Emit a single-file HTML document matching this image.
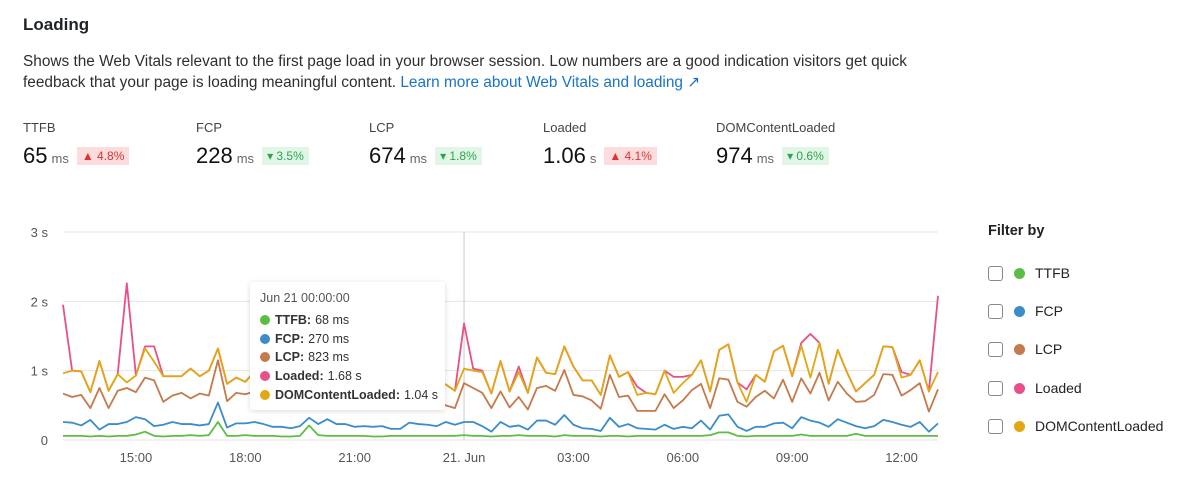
<!DOCTYPE html>
<html><head><meta charset="utf-8"><style>
body{margin:0;width:1200px;height:492px;background:#fff;font-family:"Liberation Sans",sans-serif;color:#1f2328;position:relative;overflow:hidden}
.abs{position:absolute}
h2{position:absolute;left:23px;top:15px;margin:0;font-size:17px;font-weight:bold}
.desc{left:23px;top:52px;font-size:15.4px;line-height:20.5px;color:#2b2f33;width:900px}
.desc a{color:#1a73c8;text-decoration:none}
.mlabel{font-size:13px;color:#444}
.mval{font-size:22px;color:#111}
.mval small{font-size:13px;color:#666;margin-left:4px}
.badge{display:inline-block;font-size:12px;padding:2px 5px;margin-left:8px;vertical-align:3px}
.up{background:#fcdcdc;color:#d33}
.dn{background:#e1f6e6;color:#2aa64a}
.leg{left:988px;font-size:14px;color:#222;display:flex;align-items:center}
.cb{width:13px;height:13px;border:1.5px solid #888;border-radius:3px;margin-right:11px}
.dot{width:11px;height:11px;border-radius:50%;margin-right:10px}
.tip{left:250px;top:282px;width:195px;height:128px;background:#fff;box-shadow:0 1px 6px rgba(0,0,0,.15);border-radius:3px;font-size:12.5px;color:#333}
.tip div{position:absolute;left:10px;display:flex;align-items:center}
.tip i{width:10px;height:10px;border-radius:50%;margin-right:5px;display:inline-block}
.tip b{margin-right:4px}
</style></head><body>
<h2>Loading</h2>
<div class="abs desc">Shows the Web Vitals relevant to the first page load in your browser session. Low numbers are a good indication visitors get quick feedback that your page is loading meaningful content. <a href="#">Learn more about Web Vitals and loading ↗</a></div>

<div class="abs" style="left:23px;top:120px"><div class="mlabel">TTFB</div><div class="mval" style="margin-top:8px">65<small>ms</small><span class="badge up">▲ 4.8%</span></div></div>
<div class="abs" style="left:196px;top:120px"><div class="mlabel">FCP</div><div class="mval" style="margin-top:8px">228<small>ms</small><span class="badge dn">▾ 3.5%</span></div></div>
<div class="abs" style="left:369px;top:120px"><div class="mlabel">LCP</div><div class="mval" style="margin-top:8px">674<small>ms</small><span class="badge dn">▾ 1.8%</span></div></div>
<div class="abs" style="left:543px;top:120px"><div class="mlabel">Loaded</div><div class="mval" style="margin-top:8px">1.06<small>s</small><span class="badge up">▲ 4.1%</span></div></div>
<div class="abs" style="left:716px;top:120px"><div class="mlabel">DOMContentLoaded</div><div class="mval" style="margin-top:8px">974<small>ms</small><span class="badge dn">▾ 0.6%</span></div></div>

<svg class="abs" style="left:0;top:0" width="960" height="492" id="chart"></svg>

<div class="abs tip">
<div style="top:9px;color:#555">Jun 21 00:00:00</div>
<div style="top:31px"><i style="background:#5cbd45"></i><b>TTFB:</b> 68 ms</div>
<div style="top:50px"><i style="background:#3a8dc8"></i><b>FCP:</b> 270 ms</div>
<div style="top:68px"><i style="background:#c47a4c"></i><b>LCP:</b> 823 ms</div>
<div style="top:87px"><i style="background:#e8508a"></i><b>Loaded:</b> 1.68 s</div>
<div style="top:106px"><i style="background:#e3a713"></i><b>DOMContentLoaded:</b> 1.04 s</div>
</div>

<div class="abs" style="left:988px;top:223px;font-size:14.5px;font-weight:bold;color:#222">Filter by</div>
<div class="abs leg" style="top:265px"><span class="cb"></span><span class="dot" style="background:#5cbd45"></span>TTFB</div>
<div class="abs leg" style="top:303px"><span class="cb"></span><span class="dot" style="background:#3a8dc8"></span>FCP</div>
<div class="abs leg" style="top:341px"><span class="cb"></span><span class="dot" style="background:#c47a4c"></span>LCP</div>
<div class="abs leg" style="top:380px"><span class="cb"></span><span class="dot" style="background:#e8508a"></span>Loaded</div>
<div class="abs leg" style="top:418px"><span class="cb"></span><span class="dot" style="background:#e3a713"></span>DOMContentLoaded</div>

<script>
const yTicks=[0,1,2,3];
const yTickLabels=["0","1 s","2 s","3 s"];
const xTickIdx=[8,20,32,44,56,68,80,92];
const xTickLabels=["15:00","18:00","21:00","21. Jun","03:00","06:00","09:00","12:00"];
const ttfb=[0.06,0.06,0.06,0.05,0.06,0.05,0.06,0.06,0.08,0.12,0.06,0.05,0.06,0.06,0.07,0.06,0.07,0.26,0.06,0.06,0.07,0.06,0.06,0.06,0.05,0.05,0.06,0.21,0.07,0.06,0.06,0.06,0.06,0.06,0.05,0.05,0.06,0.06,0.06,0.06,0.06,0.06,0.06,0.06,0.07,0.06,0.06,0.05,0.06,0.06,0.07,0.06,0.06,0.06,0.05,0.07,0.06,0.06,0.06,0.05,0.06,0.06,0.05,0.06,0.06,0.06,0.06,0.06,0.06,0.06,0.06,0.07,0.11,0.11,0.06,0.05,0.06,0.06,0.06,0.06,0.06,0.08,0.06,0.06,0.06,0.06,0.06,0.09,0.06,0.06,0.06,0.06,0.06,0.06,0.06,0.06,0.06];
const fcp=[0.26,0.25,0.21,0.29,0.15,0.23,0.23,0.26,0.33,0.30,0.20,0.22,0.26,0.23,0.23,0.21,0.23,0.54,0.18,0.24,0.24,0.26,0.23,0.19,0.19,0.17,0.20,0.32,0.23,0.30,0.23,0.23,0.19,0.20,0.19,0.20,0.16,0.16,0.25,0.23,0.22,0.20,0.26,0.22,
0.26,0.26,0.20,0.12,0.26,0.19,0.21,0.15,0.28,0.28,0.22,0.36,0.22,0.17,0.16,0.13,0.32,0.19,0.23,0.17,0.16,0.15,0.22,0.16,0.19,0.17,0.28,0.15,0.35,0.37,0.19,0.13,0.19,0.19,0.24,0.25,0.17,0.33,0.28,0.25,0.19,0.30,0.25,0.20,0.17,0.20,0.29,0.26,0.22,0.19,0.26,0.12,0.24];
const lcp=[0.67,0.62,0.65,0.46,0.75,0.46,0.71,0.75,0.69,0.90,0.86,0.55,0.64,0.68,0.60,0.67,0.64,1.15,0.56,0.68,0.66,0.70,
0.72,0.6,0.65,0.7,0.78,0.62,0.58,0.66,0.7,0.6,0.55,0.64,0.72,0.6,0.62,0.68,0.58,0.64,0.6,0.55,0.50,0.46,
0.82,0.75,0.68,0.46,0.70,0.47,0.62,0.44,0.75,0.78,0.71,1.01,0.65,0.63,0.57,0.45,0.94,0.62,0.64,0.42,0.42,0.42,0.66,0.46,0.57,0.72,0.81,0.46,0.89,0.87,0.55,0.48,0.62,0.71,0.60,0.87,0.55,0.89,0.67,0.97,0.57,0.84,0.67,0.55,0.56,0.65,0.95,0.94,0.64,0.72,0.82,0.41,0.73];
const dcl=[0.96,1.0,0.99,0.69,1.14,0.71,0.95,0.83,0.93,1.32,1.13,0.92,0.92,0.92,1.03,0.92,1.0,1.32,0.81,0.9,0.84,0.98,
1.05,0.9,0.95,1.0,1.1,0.92,0.88,0.95,1.0,0.9,0.85,0.95,1.05,0.9,0.92,1.0,0.88,0.95,0.9,0.85,0.8,0.71,
1.03,1.0,0.98,0.67,1.14,0.70,0.98,0.68,1.19,0.97,0.95,1.35,1.06,0.86,0.86,0.65,1.22,0.91,0.98,0.65,0.68,0.66,1.0,0.68,0.82,0.94,1.15,0.70,1.30,1.38,0.83,0.55,0.94,0.84,1.28,1.36,0.92,1.36,0.90,1.40,0.81,1.30,0.98,0.70,0.82,0.94,1.35,1.34,0.90,0.94,1.15,0.70,0.98];
const loaded=[1.95,1.0,0.99,0.69,1.14,0.71,0.95,2.26,0.93,1.35,1.35,0.92,0.92,0.92,1.03,0.92,1.0,1.32,0.81,0.9,0.84,0.98,
1.05,0.9,0.95,1.0,1.1,0.92,0.88,0.95,1.0,0.9,0.85,0.95,1.05,0.9,0.92,1.0,0.88,0.95,0.9,0.85,0.8,0.71,
1.68,1.03,1.0,0.67,1.14,0.70,1.06,0.68,1.19,0.97,0.95,1.35,1.06,0.86,0.86,0.65,1.22,0.91,0.98,0.77,0.68,0.66,1.0,0.91,0.91,0.94,1.15,0.70,1.30,1.38,0.83,0.73,0.94,0.84,1.28,1.36,0.92,1.40,1.53,1.40,0.81,1.30,0.98,0.70,0.82,0.94,1.35,1.34,0.98,0.94,1.15,0.70,2.08];
const NS="http://www.w3.org/2000/svg",svg=document.getElementById("chart");
const X0=63,X1=938,Y0=440,Y1=232,N=97;
const xs=i=>X0+(X1-X0)*i/(N-1), ys=v=>Y0-(Y0-Y1)*v/3;
function mk(t,a){const e=document.createElementNS(NS,t);for(const k in a)e.setAttribute(k,a[k]);svg.appendChild(e);return e;}
yTicks.forEach((v,i)=>{
 const l=mk("line",{x1:X0,x2:X1,y1:ys(v),y2:ys(v),stroke:"#e6e6e6"});
 
 
 const t=mk("text",{x:48,y:ys(v)+5,"text-anchor":"end","font-size":13,fill:"#555","font-family":"Liberation Sans"});
 t.textContent=yTickLabels[i];
 
 
});
xTickIdx.forEach((ix,i)=>{
 const t=mk("text",{x:xs(ix),y:462,"text-anchor":"middle","font-size":13,fill:"#555","font-family":"Liberation Sans"});
 t.textContent=xTickLabels[i];
 
 
});
const cl=mk("line",{x1:xs(44),x2:xs(44),y1:Y1,y2:Y0,stroke:"#c8c8c8"});


[[loaded,"#e8508a","loaded"],[dcl,"#e3a713","domcontentloaded"],[lcp,"#c47a4c","lcp"],[fcp,"#3a8dc8","fcp"],[ttfb,"#5cbd45","ttfb"]].forEach(([d,c,n])=>{
 const p=mk("polyline",{points:d.map((v,i)=>xs(i)+","+ys(v)).join(" "),fill:"none",stroke:c,"stroke-width":1.8,"stroke-linejoin":"round"});
 
 
});
</script>
</body></html>
